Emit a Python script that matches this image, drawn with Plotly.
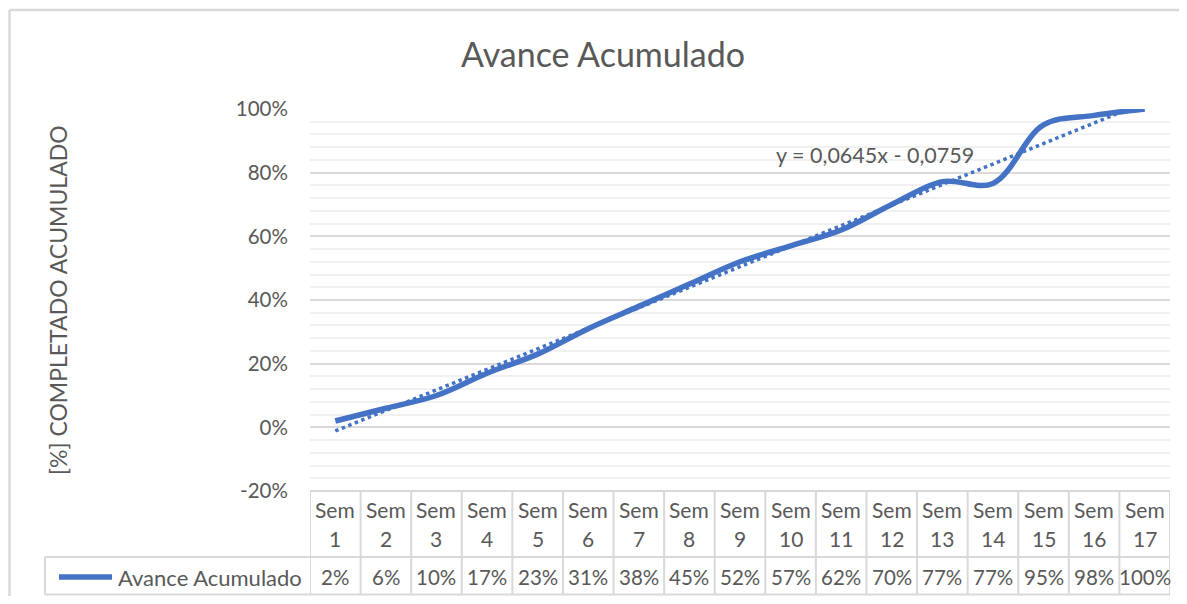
import plotly.graph_objects as go

# ---------------- data ----------------
semanas_num = list(range(1, 18))
semanas_lbl = ["Sem"] * 17
avance = [0.02, 0.06, 0.10, 0.17, 0.23, 0.31, 0.38, 0.45, 0.52, 0.57,
          0.62, 0.70, 0.772, 0.766, 0.95, 0.98, 1.00]
serie_nombre = "Avance Acumulado"
tend_pendiente = 0.0645
tend_intercepto = -0.0759
tend_texto = "y = 0,0645x - 0,0759"
y_ticks = [-0.2, 0.0, 0.2, 0.4, 0.6, 0.8, 1.0]
y_tick_txt = ["-20%", "0%", "20%", "40%", "60%", "80%", "100%"]
titulo = "Avance Acumulado"
titulo_y = "[%] COMPLETADO ACUMULADO"

# ---------------- layout helpers ----------------
OFF = 8  # default page body margin
W, H = 1187 - 2 * OFF, 604 - 2 * OFF
L, R, T, B = 310 - OFF, 1170 - OFF, 109 - OFF, 491 - OFF
FONT = "Lato"
GREY = "#595959"
BLUE = "#4472C4"
LINEC = "#d9d9d9"


def px_x(px):
    return (px - OFF - L) / (R - L)


def px_y(py):
    return (B - (py - OFF)) / (B - T)


fig = go.Figure()

fig.add_trace(go.Scatter(
    x=semanas_num, y=avance, mode="lines", name=serie_nombre,
    line=dict(color=BLUE, width=5.5, shape="spline", smoothing=1),
    showlegend=False, hoverinfo="skip"))

tend_y = [tend_pendiente * x + tend_intercepto for x in semanas_num]
fig.add_trace(go.Scatter(
    x=semanas_num, y=tend_y, mode="lines",
    line=dict(color=BLUE, width=3.5, dash="dot"),
    showlegend=False, hoverinfo="skip"))

shapes = []
annotations = []

# outer chart border (left and top edges visible)
shapes.append(dict(type="line", xref="paper", yref="paper",
                   x0=px_x(9.5), x1=px_x(1180), y0=px_y(10), y1=px_y(10),
                   line=dict(color=LINEC, width=2.5), layer="below"))
shapes.append(dict(type="line", xref="paper", yref="paper",
                   x0=px_x(9.5), x1=px_x(9.5), y0=px_y(10), y1=px_y(597),
                   line=dict(color=LINEC, width=2.5), layer="below"))

# data table lines
row1_bot = px_y(557)
row2_bot = px_y(594.5)
shapes.append(dict(type="line", xref="paper", yref="paper",
                   x0=0, x1=1, y0=0, y1=0,
                   line=dict(color=LINEC, width=2)))
shapes.append(dict(type="line", xref="paper", yref="paper",
                   x0=px_x(45), x1=1, y0=row1_bot, y1=row1_bot,
                   line=dict(color=LINEC, width=2)))
shapes.append(dict(type="line", xref="paper", yref="paper",
                   x0=px_x(45), x1=1, y0=row2_bot, y1=row2_bot,
                   line=dict(color=LINEC, width=2)))
shapes.append(dict(type="line", xref="paper", yref="paper",
                   x0=px_x(45), x1=px_x(45), y0=row1_bot, y1=row2_bot,
                   line=dict(color=LINEC, width=2)))
for k in range(len(semanas_num) + 1):
    xv = semanas_num[0] - 0.5 + k
    shapes.append(dict(type="line", xref="x", yref="paper",
                       x0=xv, x1=xv, y0=0, y1=row2_bot,
                       line=dict(color=LINEC, width=2)))

# legend key
shapes.append(dict(type="line", xref="paper", yref="paper",
                   x0=px_x(59), x1=px_x(112), y0=px_y(577), y1=px_y(577),
                   line=dict(color=BLUE, width=5.5)))
annotations.append(dict(text=serie_nombre, xref="paper", yref="paper",
                        x=px_x(304), y=px_y(577), xanchor="right", yanchor="middle",
                        showarrow=False, font=dict(family=FONT, size=22, color=GREY)))

for xnum, lbl, v in zip(semanas_num, semanas_lbl, avance):
    annotations.append(dict(text=lbl, xref="x", yref="paper",
                            x=xnum, y=px_y(509), xanchor="center", yanchor="middle",
                            showarrow=False, font=dict(family=FONT, size=21, color=GREY)))
    annotations.append(dict(text=str(xnum), xref="x", yref="paper",
                            x=xnum, y=px_y(538), xanchor="center", yanchor="middle",
                            showarrow=False, font=dict(family=FONT, size=21, color=GREY)))
    annotations.append(dict(text=f"{round(v * 100)}%", xref="x", yref="paper",
                            x=xnum, y=px_y(577), xanchor="center", yanchor="middle",
                            showarrow=False, font=dict(family=FONT, size=20.5, color=GREY)))

# trendline equation
annotations.append(dict(text=tend_texto, xref="paper", yref="paper",
                        x=px_x(875), y=px_y(155), xanchor="center", yanchor="middle",
                        showarrow=False, font=dict(family=FONT, size=21.5, color=GREY)))

# y axis title
annotations.append(dict(text=titulo_y, xref="paper", yref="paper",
                        x=px_x(58), y=px_y(300), xanchor="center", yanchor="middle",
                        textangle=-90, showarrow=False,
                        font=dict(family=FONT, size=23, color=GREY)))

fig.update_layout(
    width=W, height=H,
    margin=dict(l=L, r=W - R, t=T, b=H - B, pad=0),
    paper_bgcolor="white", plot_bgcolor="white",
    title=dict(text=titulo, x=px_x(603), xref="paper", xanchor="center",
               y=1 - (55 - OFF) / H, yref="container", yanchor="middle",
               font=dict(family=FONT, size=34, color=GREY)),
    xaxis=dict(range=[0.5, 17.5], showticklabels=False, showgrid=False,
               zeroline=False, showline=False, fixedrange=True),
    yaxis=dict(range=[-0.2, 1.0], tickvals=y_ticks, ticktext=y_tick_txt,
               showgrid=True, gridcolor=LINEC, gridwidth=2,
               zeroline=False, showline=False,
               ticks="outside", ticklen=0, ticklabelstandoff=17,
               tickfont=dict(family=FONT, size=20.5, color=GREY),
               minor=dict(dtick=0.04, tick0=0, showgrid=True,
                          gridcolor="#f0f0f0", gridwidth=2),
               fixedrange=True),
    shapes=shapes, annotations=annotations,
)

fig.write_html("out.html", config={"displayModeBar": False})
